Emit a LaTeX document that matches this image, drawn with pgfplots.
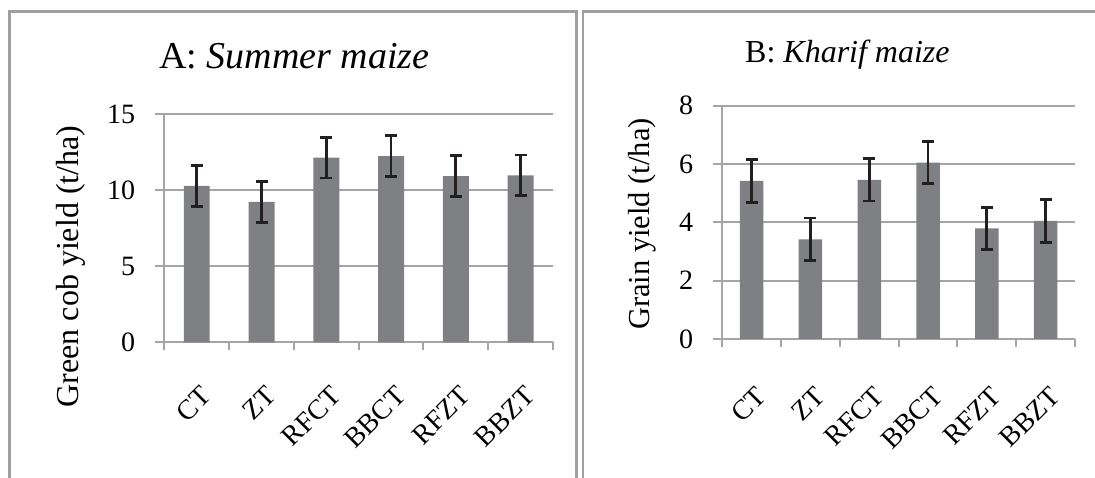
\documentclass[border=0pt]{standalone}
\usepackage{fontspec}
\setmainfont{Liberation Serif}
\usepackage{pgfplots}
\usepackage{pgfplotstable}
\pgfplotsset{compat=1.18}
\definecolor{barcol}{RGB}{127,128,132}
\definecolor{gridcol}{RGB}{165,165,165}
\definecolor{boxcol}{RGB}{160,160,160}
\definecolor{errcol}{RGB}{35,31,32}

\pgfplotstableread{
x y e
0 10.30 1.34
1 9.25 1.34
2 12.15 1.33
3 12.26 1.33
4 10.94 1.34
5 10.99 1.34
}\summer

\pgfplotstableread{
x y e
0 5.42 0.73
1 3.42 0.73
2 5.46 0.73
3 6.05 0.73
4 3.79 0.73
5 4.05 0.74
}\kharif

\pgfplotsset{
 panel/.style={
  scale only axis, anchor=south west,
  xmin=-0.5, xmax=5.5, ymin=0,
  axis x line*=bottom, axis y line*=left,
  axis line style={gridcol, line width=2pt},
  ymajorgrids, major grid style={gridcol, line width=2pt},
  tick align=outside,
  xtick={0,...,5}, xticklabels={CT,ZT,RFCT,BBCT,RFZT,BBZT},
  minor xtick={-0.5,0.5,...,5.5},
  major x tick style={draw=none},
  minor x tick style={gridcol, line width=2pt},
  minor tick length=8pt,
  major tick length=9pt,
  y tick style={gridcol, line width=2pt},
  tick label style={font=\fontsize{28}{30}\selectfont},
  /pgf/number format/assume math mode=true,
  yticklabel style={anchor=east, inner sep=0pt, xshift=-20pt},
  ybar, bar width=0.4,
 },
 bars/.style={fill=barcol, draw=none,
  error bars/.cd, y dir=both, y explicit,
  error bar style={errcol, line width=2.8pt},
  error mark options={errcol, line width=2.8pt, mark size=6pt, rotate=90}},
}

\begin{document}
\begin{tikzpicture}
\useasboundingbox (0pt,0pt) rectangle (1095pt,478pt);
\clip (0pt,0pt) rectangle (1095pt,478pt);
\draw[boxcol, line width=2.5pt] (9.5pt,-20pt) -- (9.5pt,466.5pt) -- (576.5pt,466.5pt) -- (576.5pt,-20pt);
\draw[boxcol, line width=2.5pt] (583pt,-20pt) -- (583pt,466.5pt) -- (1120pt,466.5pt);

\node[anchor=base west, inner sep=0pt] at (159pt,409pt) {\fontsize{38}{40}\selectfont A: \textit{Summer maize}};
\node[anchor=base west, inner sep=0pt] at (745pt,415pt) {\fontsize{32}{34}\selectfont B: \textit{Kharif maize}};
\node[anchor=base, rotate=90, inner sep=0pt] at (78.5pt,211.5pt) {\fontsize{32}{34}\selectfont Green cob yield (t/ha)};
\node[anchor=base, rotate=90, inner sep=0pt] at (649pt,254pt) {\fontsize{30.5}{32}\selectfont Grain yield (t/ha)};

\begin{axis}[panel, at={(164.4pt,135.6pt)}, width=388.6pt, height=228pt,
  ymax=15, ytick={0,5,10,15},
  xticklabel style={inner sep=0pt, anchor=north east, xshift=3pt, yshift=-33pt, rotate=45}]
\addplot[bars] table[x=x, y=y, y error=e] {\summer};
\end{axis}

\begin{axis}[panel, at={(722.3pt,139pt)}, width=352.7pt, height=233.3pt,
  ymax=8, ytick={0,2,4,6,8},
  xticklabel style={inner sep=0pt, anchor=north east, xshift=3pt, yshift=-37pt, rotate=45}]
\addplot[bars] table[x=x, y=y, y error=e] {\kharif};
\end{axis}
\end{tikzpicture}
\end{document}
